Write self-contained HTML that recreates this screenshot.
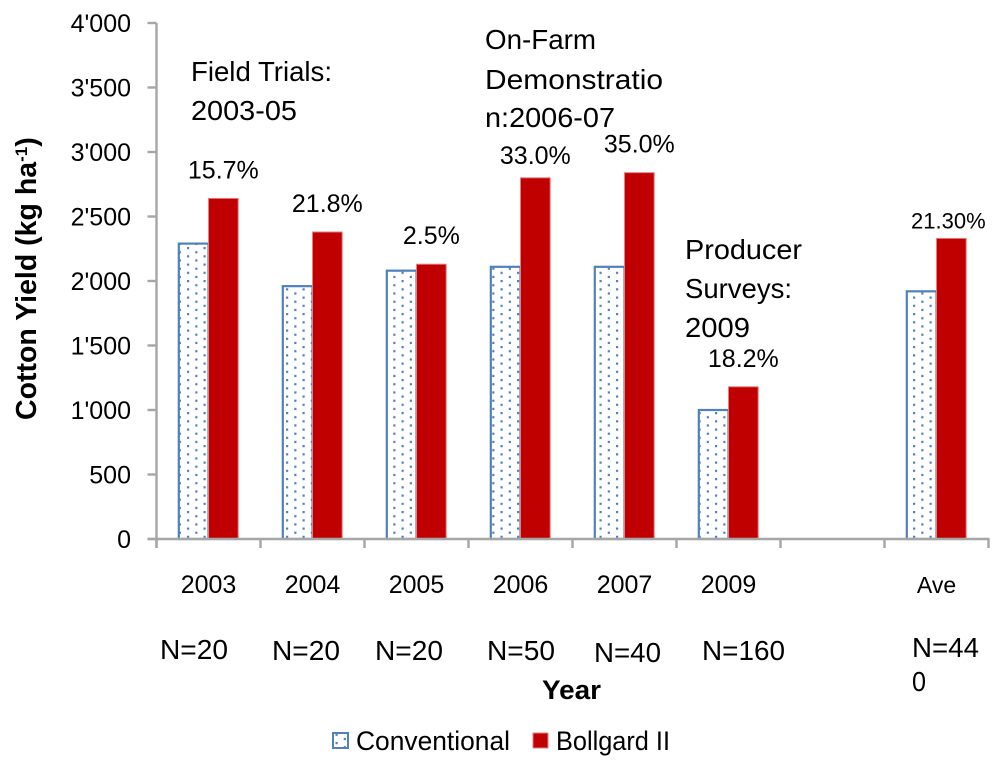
<!DOCTYPE html>
<html lang="en">
<head>
<meta charset="utf-8">
<title>Cotton Yield Chart</title>
<style>
html,body{margin:0;padding:0;background:#fff;width:1000px;height:762px;overflow:hidden}
svg{display:block}
text{font-family:"Liberation Sans",sans-serif;fill:#000;font-size:25px}
.big{font-size:28px}
</style>
</head>
<body>
<svg id="chart" xmlns="http://www.w3.org/2000/svg" width="1000" height="762" viewBox="0 0 1000 762">
  <defs>
    <pattern id="dots" patternUnits="userSpaceOnUse" width="16.5" height="8.25" x="187" y="247">
      <rect width="2.2" height="2.2" x="0" y="0" fill="#4f81bd"/>
      <rect width="2.2" height="2.2" x="8.25" y="4.12" fill="#4f81bd"/>
    </pattern>
  </defs>
  <g id="bars"></g>
  <g id="axes"></g>
  <g id="labels"></g>

  <text class="big" x="191" y="81" textLength="141" lengthAdjust="spacingAndGlyphs">Field Trials:</text>
  <text class="big" x="191" y="120" textLength="106" lengthAdjust="spacingAndGlyphs">2003-05</text>
  <text class="big" x="485" y="49" textLength="111" lengthAdjust="spacingAndGlyphs">On-Farm</text>
  <text class="big" x="485" y="89" textLength="178" lengthAdjust="spacingAndGlyphs">Demonstratio</text>
  <text class="big" x="485" y="127" textLength="130" lengthAdjust="spacingAndGlyphs">n:2006-07</text>
  <text class="big" x="685" y="259" textLength="117" lengthAdjust="spacingAndGlyphs">Producer</text>
  <text class="big" x="685" y="298" textLength="107" lengthAdjust="spacingAndGlyphs">Surveys:</text>
  <text class="big" x="685" y="337" textLength="65" lengthAdjust="spacingAndGlyphs">2009</text>

  <text class="big" x="160" y="659" textLength="68" lengthAdjust="spacingAndGlyphs">N=20</text>
  <text class="big" x="272" y="660" textLength="68" lengthAdjust="spacingAndGlyphs">N=20</text>
  <text class="big" x="375" y="660" textLength="68" lengthAdjust="spacingAndGlyphs">N=20</text>
  <text class="big" x="487" y="660" textLength="68" lengthAdjust="spacingAndGlyphs">N=50</text>
  <text class="big" x="594" y="662" textLength="67" lengthAdjust="spacingAndGlyphs">N=40</text>
  <text class="big" x="702" y="660" textLength="83" lengthAdjust="spacingAndGlyphs">N=160</text>
  <text class="big" x="912" y="657" textLength="67" lengthAdjust="spacingAndGlyphs">N=44</text>
  <text class="big" x="912" y="691" textLength="14" lengthAdjust="spacingAndGlyphs">0</text>

  <text x="542" y="699" textLength="59" lengthAdjust="spacingAndGlyphs" style="font-weight:bold;font-size:27px">Year</text>
  <text transform="translate(36,420) rotate(-90)" x="0" y="0" style="font-weight:bold;font-size:28.5px">Cotton Yield (kg ha<tspan dy="-9" style="font-size:17px">-1</tspan><tspan dy="9">)</tspan></text>

  <g>
    <rect x="333" y="733" width="15" height="15" fill="url(#dots)" stroke="#4f81bd" stroke-width="2"/>
    <text x="356" y="750" textLength="154" lengthAdjust="spacingAndGlyphs" style="font-size:27px">Conventional</text>
    <rect x="533" y="733" width="15" height="15" fill="#c00000" stroke="#e08080" stroke-width="1"/>
    <text x="556" y="750" textLength="114" lengthAdjust="spacingAndGlyphs" style="font-size:27px">Bollgard II</text>
  </g>
</svg>
<script>
const categories = ["2003", "2004", "2005", "2006", "2007", "2009", "", "Ave"];
const conventional = [2290, 1960, 2080, 2110, 2110, 1000, null, 1920];
const bollgard = [2640, 2380, 2130, 2800, 2840, 1180, null, 2330];
const increaseLabels = ["15.7%", "21.8%", "2.5%", "33.0%", "35.0%", "18.2%", "", "21.30%"];
const yTicks = [0, 500, 1000, 1500, 2000, 2500, 3000, 3500, 4000];
const yTickLabels = ["0", "500", "1'000", "1'500", "2'000", "2'500", "3'000", "3'500", "4'000"];

const SVG_NS = "http://www.w3.org/2000/svg";
const plot = { left: 156.5, bottom: 539, top: 23, band: 104, barWidth: 29.7, yMax: 4000 };
function xBand(i) { return plot.left + plot.band * i; }
function xCenter(i) { return xBand(i) + plot.band / 2; }
function yScale(v) { return plot.bottom - (v / plot.yMax) * (plot.bottom - plot.top); }
function make(tag, attrs, parent) {
  const el = document.createElementNS(SVG_NS, tag);
  Object.keys(attrs).forEach(function (k) { el.setAttribute(k, attrs[k]); });
  parent.appendChild(el);
  return el;
}

const barsLayer = document.getElementById("bars");
const axesLayer = document.getElementById("axes");
const labelsLayer = document.getElementById("labels");
const labelLift = 20;
const labelNudgeX = [0, 0, 0, 0, 0, 0, 0, -3];
const labelNudgeY = [0, 0, 0, 6, 0, 0, 0, 10];

categories.forEach(function (cat, i) {
  if (conventional[i] !== null) {
    const c = make("rect", {
      x: xCenter(i) - plot.barWidth,
      y: yScale(conventional[i]),
      width: plot.barWidth,
      height: plot.bottom - yScale(conventional[i]),
      fill: "url(#dots)",
      stroke: "#4f81bd",
      "stroke-width": 2.2
    }, barsLayer);
    
    
  }
  if (bollgard[i] !== null) {
    const b = make("rect", {
      x: xCenter(i),
      y: yScale(bollgard[i]),
      width: plot.barWidth,
      height: plot.bottom - yScale(bollgard[i]),
      fill: "#c00000",
      stroke: "#e08080",
      "stroke-width": 1
    }, barsLayer);
    
    
    const t = make("text", {
      x: xCenter(i) + plot.barWidth / 2 + labelNudgeX[i],
      y: yScale(bollgard[i]) - labelLift + labelNudgeY[i],
      "text-anchor": "middle",
      style: "font-size:" + (increaseLabels[i].length > 5 ? "22px" : "25px")
    }, labelsLayer);
    t.textContent = increaseLabels[i];
    
    
  }
  const xt = make("line", {
    x1: xBand(i), x2: xBand(i), y1: plot.bottom, y2: plot.bottom + 9,
    stroke: "#a6a6a6", "stroke-width": 2.4
  }, axesLayer);
  
  
  if (cat) {
    const lab = make("text", {
      x: xCenter(i), y: 593, "text-anchor": "middle",
      style: cat === "Ave" ? "font-size:23px" : "font-size:25px"
    }, axesLayer);
    lab.textContent = cat;
    
    
  }
});

const lastTick = make("line", {
  x1: xBand(categories.length), x2: xBand(categories.length), y1: plot.bottom, y2: plot.bottom + 9,
  stroke: "#a6a6a6", "stroke-width": 2.4
}, axesLayer);



yTicks.forEach(function (v, i) {
  const tick = make("line", {
    x1: plot.left - 9, x2: plot.left, y1: yScale(v), y2: yScale(v),
    stroke: "#a6a6a6", "stroke-width": 2.4
  }, axesLayer);
  
  
  const lab = make("text", {
    x: 131, y: yScale(v) + 9, "text-anchor": "end",
    style: "font-size:25px"
  }, axesLayer);
  lab.textContent = yTickLabels[i];
  
  
});

const yAxis = make("line", {
  x1: plot.left, x2: plot.left, y1: plot.top, y2: plot.bottom + 9,
  stroke: "#a6a6a6", "stroke-width": 2.4
}, axesLayer);



const xAxis = make("line", {
  x1: plot.left - 9, x2: xBand(categories.length) + 1, y1: plot.bottom, y2: plot.bottom,
  stroke: "#a6a6a6", "stroke-width": 2.4
}, axesLayer);


</script>
</body>
</html>
